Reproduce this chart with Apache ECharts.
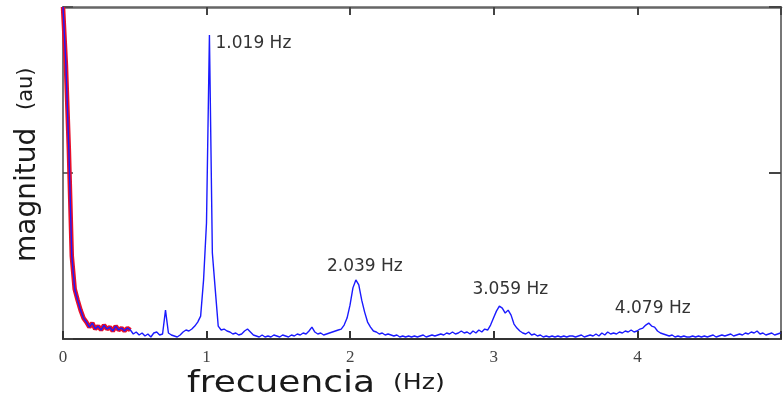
<!DOCTYPE html>
<html>
<head>
<meta charset="utf-8">
<script src="https://cdn.jsdelivr.net/npm/echarts@6/dist/echarts.min.js"></script>
<style>
  html, body { margin: 0; padding: 0; background: #fff; }
  #chart { width: 784px; height: 407px; }
</style>
</head>
<body>
<div id="chart"></div>
<script>
// FFT bin width (Hz); peaks sit on bins 50, 100, 150, 200
const freqStep = 0.020394;
// magnitude per bin (au, 0..100)
const magnitud = [
  100, 82.5, 57, 25, 15, 11.7, 8.7, 6.3, 5.1, 3.6, 4.8, 3.0, 3.9, 2.7, 4.2, 3.0, 3.6, 2.4, 3.9, 2.7, 3.3, 2.4, 3.3, 2.7,
  1.5, 2.1, 1.2, 1.8, 0.9, 1.5, 0.6, 1.8, 2.1, 1.2, 1.5, 8.7,
  1.8, 1.2, 0.9, 0.6, 1.2, 2.1, 2.7, 2.4, 3.0, 3.9, 5.1, 6.9, 17.8, 35, 91.6, 25.9, 14.8, 3.9,
  2.7, 3.0, 2.4, 2.1, 1.5, 1.8, 1.2, 1.5, 2.4, 3.0, 2.1, 1.2, 0.9, 0.6, 1.2, 0.6, 0.9,
  0.6, 1.2, 0.9, 0.6, 1.2, 0.9, 0.6, 1.2, 0.9, 1.5, 1.2, 1.8, 1.5, 2.4, 3.6,
  2.1, 1.5, 1.8, 1.2, 1.5, 1.8, 2.1, 2.4, 2.7, 3.0,
  4.2, 6.3, 10.2, 15.4, 17.8, 16.3, 11.7, 8.1, 5.1, 3.6, 2.4,
  2.1, 1.5, 1.8, 1.2, 1.5, 1.2, 0.9, 1.2, 0.6, 0.9, 0.6, 0.9, 0.6, 0.9, 0.6, 0.9, 1.2, 0.6, 0.9,
  1.2, 0.9, 1.2, 1.5, 1.2, 1.8, 1.5, 2.1, 1.5, 1.8, 2.4, 1.8, 2.1, 1.5, 2.4, 1.8, 2.7, 2.1, 3.0, 2.7,
  4.2, 6.3, 8.4, 9.9, 9.3, 7.8, 8.7, 7.2, 4.5, 3.3, 2.4,
  1.8, 1.5, 2.1, 1.2, 1.5, 0.9, 1.2, 0.6, 0.9, 0.6, 0.9, 0.6, 0.9, 0.6, 0.9, 0.6, 0.9, 0.9, 0.6, 0.9,
  1.2, 0.6, 0.9, 1.2, 0.9, 1.5, 0.9, 1.8, 1.2, 2.1, 1.5, 1.8, 1.5, 2.1, 1.8, 2.4, 2.1, 2.7, 2.1, 2.4, 3.0,
  3.3, 4.2, 4.8, 3.9, 3.6, 2.4, 1.8,
  1.5, 1.2, 0.9, 1.2, 0.6, 0.9, 0.6, 0.9, 0.6, 0.6, 0.9, 0.6, 0.9, 0.6, 0.9, 0.6, 0.9, 1.2, 0.6, 0.9,
  1.2, 0.9, 1.2, 1.5, 0.9, 1.2, 1.5, 1.2, 1.8, 1.5, 2.1, 1.8, 2.4, 1.5, 1.8, 1.2, 1.5, 1.8, 1.2, 1.5, 1.8
];
// the red trace covers only the first bins
const redBins = 24;
const peakBins = [50, 100, 150, 200];
const peakLabels = ["1.019 Hz", "2.039 Hz", "3.059 Hz", "4.079 Hz"];
const xTicks = [0, 1, 2, 3, 4];

const blueData = magnitud.map((v, i) => [i * freqStep, v]);
const redData = blueData.slice(0, redBins);
const labelOffsets = [[44, 9], [9, -13], [8, -19], [4, -14]];

const chart = echarts.init(document.getElementById("chart"));
chart.setOption({
  animation: false,
  grid: { left: 63, right: 1, top: 7, bottom: 68 },
  xAxis: [
    {
      type: "value", min: 0, max: 5, interval: 1,
      axisLine: { onZero: false, lineStyle: { color: "#333", width: 2 } },
      axisTick: { inside: true, length: 8, lineStyle: { color: "#333", width: 2 } },
      splitLine: { show: false },
      axisLabel: {
        margin: 10, color: "#444", fontSize: 17, fontFamily: "Liberation Serif",
        formatter: v => (xTicks.indexOf(v) >= 0 ? String(v) : "")
      }
    },
    {
      type: "value", min: 0, max: 5, interval: 1, position: "top",
      axisLine: { onZero: false, lineStyle: { color: "#666", width: 2.5 } },
      axisTick: { inside: true, length: 8, lineStyle: { color: "#444", width: 2 } },
      axisLabel: { show: false }, splitLine: { show: false }
    }
  ],
  yAxis: [
    {
      type: "value", min: 0, max: 100, interval: 50,
      axisLine: { show: true, onZero: false, lineStyle: { color: "#777", width: 2 } },
      axisTick: { show: true, inside: true, length: 10, lineStyle: { color: "#444", width: 1.5 } },
      axisLabel: { show: false }, splitLine: { show: false }
    },
    {
      type: "value", min: 0, max: 100, interval: 50, position: "right",
      axisLine: { show: true, onZero: false, lineStyle: { color: "#777", width: 2 } },
      axisTick: { show: true, inside: true, length: 12, lineStyle: { color: "#444", width: 2 } },
      axisLabel: { show: false }, splitLine: { show: false }
    }
  ],
  series: [
    {
      type: "line", data: redData, showSymbol: false, z: 2,
      lineStyle: { color: "#e8102a", width: 4.5 }
    },
    {
      type: "line", data: blueData, showSymbol: false, z: 3,
      lineStyle: { color: "#1a1aff", width: 1.4 },
      markPoint: {
        symbol: "circle", symbolSize: 0,
        label: {
          show: true, position: "inside", color: "#333",
          fontSize: 17, fontFamily: "DejaVu Sans"
        },
        data: peakBins.map((b, k) => ({
          coord: blueData[b],
          value: peakLabels[k],
          label: { formatter: peakLabels[k], offset: labelOffsets[k] }
        }))
      }
    }
  ],
  graphic: [
    {
      type: "text", x: 187, y: 368, scaleX: 1.16,
      style: { text: "frecuencia", font: "31px 'DejaVu Sans'", fill: "#1a1a1a" }
    },
    {
      type: "text", x: 393, y: 373, scaleX: 1.2,
      style: { text: "(Hz)", font: "21px 'DejaVu Sans'", fill: "#1a1a1a" }
    },
    {
      type: "text", x: 14, y: 262, rotation: Math.PI / 2,
      style: { text: "magnitud", font: "28px 'DejaVu Sans'", fill: "#1a1a1a" }
    },
    {
      type: "text", x: 16, y: 110, rotation: Math.PI / 2,
      style: { text: "(au)", font: "21px 'DejaVu Sans'", fill: "#1a1a1a" }
    }
  ]
});
</script>
</body>
</html>
